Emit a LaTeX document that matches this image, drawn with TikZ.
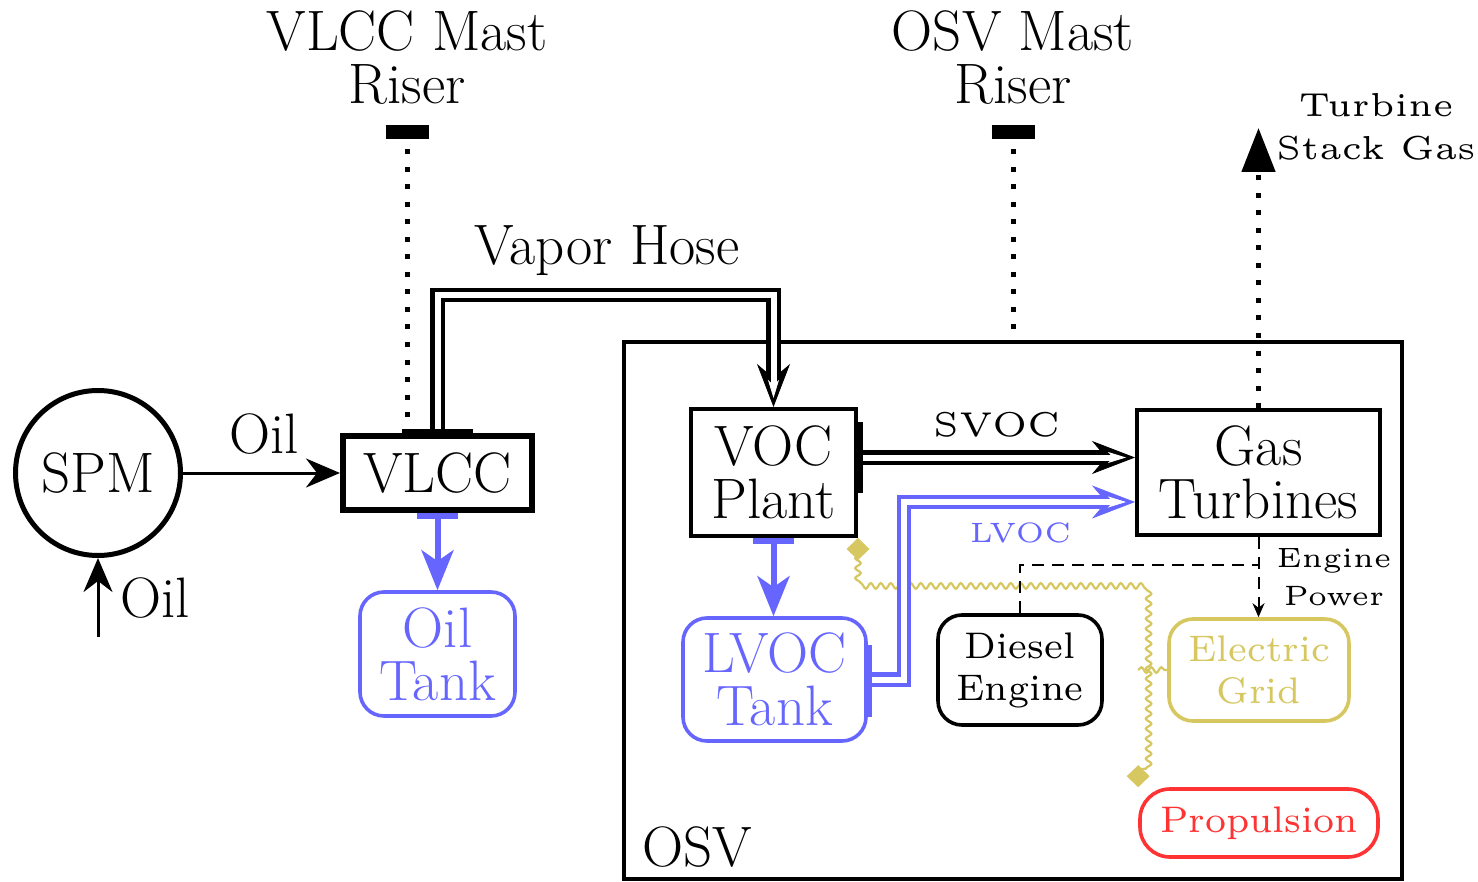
\documentclass[tikz,border=0pt]{standalone}
\usetikzlibrary{arrows.meta,decorations.pathmorphing}
\definecolor{lblue}{RGB}{102,102,255}
\definecolor{gold}{RGB}{214,199,97}
\definecolor{lred}{RGB}{255,51,51}
\font\fntTinyRaw="[lmroman5-regular]" at 14pt
\font\fntSmRaw="[lmroman5-regular]" at 17.2pt
\font\fntStRaw="[lmroman5-regular]" at 16.6pt
\font\fntMedRaw="[lmroman7-regular]" at 18.5pt
\newcommand\fntBig{\fontsize{28.5}{26.5}\selectfont}
\newcommand\fntMed{\fntMedRaw\baselineskip=21pt\relax}
\newcommand\fntSm{\fntSmRaw\baselineskip=21.5pt\relax}
\newcommand\fntSt{\fntStRaw\baselineskip=21.5pt\relax}
\newcommand\fntTiny{\fntTinyRaw\baselineskip=19pt\relax}
\begin{document}
\begin{tikzpicture}[x=0.5pt,y=-0.5pt,
  big/.style={font=\fntBig, align=center, inner sep=0pt},
  box/.style={draw, line width=2pt, inner sep=0pt, font=\fntBig, align=center},
  rbox/.style={draw, rounded corners=12pt, line width=1.8pt, inner sep=0pt, align=center},
  pipeout/.style={line width=7.2pt, line join=miter, -{Stealth[length=21.5pt, width=16.5pt, inset=7pt, line width=0.4pt]}},
  pipein/.style={draw=white, line width=3pt, line join=miter, shorten >=4.5pt, -{Stealth[length=9pt, width=5.5pt, inset=2.5pt, line width=0.4pt]}},
  blues/.style={draw=lblue, line width=3pt, {Bar[width=20.5pt,line width=3pt]}-{Stealth[length=20pt,width=16pt,inset=5.5pt]}},
  dotline/.style={line width=2.5pt, dash pattern=on 2.5pt off 6.25pt},
  dashline/.style={line width=1pt, dash pattern=on 6pt off 4pt},
  snk/.style={draw=gold, line width=1.1pt, decorate, decoration={snake, amplitude=1.4pt, segment length=5pt, pre length=6pt, post length=6pt}},
  snkb/.style={draw=gold, line width=1.1pt, decorate, decoration={snake, amplitude=1.4pt, segment length=5pt}},
  oilarrow/.style={line width=1.5pt, -{Stealth[length=17pt,width=14.5pt,inset=5.5pt]}},
  barline/.style={line width=2.5pt},
  riserbar/.style={line width=3.2pt}
]
\useasboundingbox (0,0) rectangle (1478,882);

% OSV container
\node[draw, line width=1.8pt, minimum width=389pt, minimum height=268.5pt] (osv) at (1013,610.5) {};
\node[big] (osvlbl) at (697,847) {OSV};

% main nodes
\node[circle, draw, line width=2.5pt, minimum size=82.5pt, inner sep=0pt, font=\fntBig] (spm) at (98,473) {SPM};
\node[draw, line width=3pt, minimum width=94.5pt, minimum height=37pt, inner sep=0pt, font=\fntBig] (vlcc) at (437.5,473) {VLCC};
\node[box, minimum width=82.5pt, minimum height=63.5pt] (voc) at (773.5,472.5) {VOC\\Plant};
\node[box, minimum width=121.5pt, minimum height=62.5pt] (gt) at (1258.5,472.5) {Gas\\Turbines};
\node[rbox, draw=lblue, text=lblue, font=\fntBig, minimum width=77.5pt, minimum height=62pt] (otank) at (437.5,654) {Oil\\Tank};
\node[rbox, draw=lblue, text=lblue, font=\fntBig, minimum width=91.5pt, minimum height=61.5pt] (ltank) at (774.5,679.5) {LVOC\\Tank};
\node[rbox, font=\fntMed, minimum width=82pt, minimum height=55pt] (diesel) at (1020,670) {Diesel\\Engine};
\node[rbox, draw=gold, text=gold, font=\fntMed, minimum width=90pt, minimum height=51pt] (grid) at (1259,670) {Electric\\Grid};
\node[rbox, draw=lred, text=lred, font=\fntMed, rounded corners=15pt, minimum width=119pt, minimum height=34pt] (prop) at (1259,823) {Propulsion};

% labels
\node[big] (vmastlbl) at (407,58) {VLCC Mast\\Riser};
\node[big] (omastlbl) at (1013,58) {OSV Mast\\Riser};
\node[big] (hoselbl) at (607,251) {Vapor Hose};
\node[big] (oil1) at (264,434) {Oil};
\node[big] (oil2) at (155,598) {Oil};
\node[font=\fntSm, inner sep=0pt] (svoc) at (997,424.5) {SVOC};
\node[font=\fntTiny, text=lblue, inner sep=0pt] (lvoc) at (1020.5,532.5) {LVOC};
\node[font=\fntTiny, align=center, inner sep=0pt] (eplbl) at (1334,577) {Engine\\Power};
\node[font=\fntSt, align=center, inner sep=0pt] (stacklbl) at (1376,127) {Turbine\\Stack Gas};

% free ends
\coordinate (vmast) at (407,139);
\coordinate (omast) at (1013,139);
\coordinate (stack) at (1258.5,128);
\coordinate (oilin) at (98,637);
\coordinate (hoseL) at (437.5,295);
\coordinate (ej) at (1258.5,565);

% riser symbols
\draw[riserbar] (385.5,128.6) -- (428.5,128.6) (385.5,135.6) -- (428.5,135.6);
\draw[riserbar] (991.5,128.6) -- (1034.5,128.6) (991.5,135.6) -- (1034.5,135.6);

% oil
\draw[oilarrow] (spm) -- (vlcc);
\draw[oilarrow] (oilin) -- (spm);

% dotted risers / stack
\draw[dotline, dash phase=3.5pt] (vmast) -- (vmast |- vlcc.north);
\draw[dotline, dash phase=3.5pt] (omast) -- (osv.north);
\draw[dotline, -{Triangle[length=22pt,width=16.5pt]}] (gt.north) -- (stack);

% yellow snake power lines
\draw[snk, {Diamond[length=11pt,width=11.5pt]}-{Diamond[length=11pt,width=11.5pt]}] (voc.south east) -- ++(0,45) -| (prop.north west);
\draw[snkb] (prop.north west |- grid.west) -- (grid.west);

% vapor hose (double pipe)
\draw[pipeout] (vlcc.north) -- (hoseL) -| (voc.north);
\draw[pipein] (vlcc.north) -- (hoseL) -| (voc.north);
\draw[line width=2pt] ([xshift=-17.75pt,yshift=1pt]vlcc.north) -- ([xshift=17.75pt,yshift=1pt]vlcc.north);

% SVOC
\draw[pipeout] ([yshift=7.5pt]voc.east) -- ([yshift=7.5pt]gt.west);
\draw[pipein] ([yshift=7.5pt]voc.east) -- ([yshift=7.5pt]gt.west);
\draw[barline] ([xshift=1.25pt,yshift=25.25pt]voc.east) -- ([xshift=1.25pt,yshift=-10.25pt]voc.east);

% LVOC
\draw[pipeout, draw=lblue] (ltank.east) -- ++(36,0) |- ([yshift=-14.75pt]gt.west);
\draw[pipein] (ltank.east) -- ++(36,0) |- ([yshift=-14.75pt]gt.west);
\draw[draw=lblue, line width=2pt] ([xshift=1pt,yshift=17.25pt]ltank.east) -- ([xshift=1pt,yshift=-18.75pt]ltank.east);

% liquid flows
\draw[blues] (vlcc.south) -- (otank.north);
\draw[blues] (voc.south) -- (voc.south |- ltank.north);

% engine power
\draw[dashline, -{Stealth[length=7pt,width=6pt]}] (gt.south) -- (gt.south |- grid.north);
\draw[dashline] (diesel.north) |- (ej);
\end{tikzpicture}
\end{document}
